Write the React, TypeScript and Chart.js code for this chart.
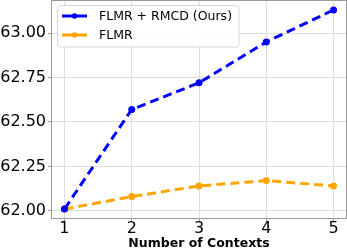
import React, { useEffect, useRef } from "react";
import { Chart, registerables } from "chart.js";

Chart.register(...registerables);

const contexts = [1, 2, 3, 4, 5];
const rmcdValues = [62.01, 62.57, 62.72, 62.95, 63.13];
const flmrValues = [62.01, 62.08, 62.14, 62.17, 62.14];
const yTicks = [62.0, 62.25, 62.5, 62.75, 63.0];
const seriesNames = ["FLMR + RMCD (Ours)", "FLMR"];
const xTitle = "Number of Contexts";

const FONT = "'DejaVu Sans', sans-serif";

const legendPlugin = {
  id: "insideLegend",
  afterDraw(chart: any) {
    const ctx = chart.ctx;
    const x0 = 57, y0 = 5, w = 182, h = 42;
    ctx.save();
    ctx.fillStyle = "rgba(255,255,255,0.85)";
    ctx.strokeStyle = "#d6d6d6";
    ctx.lineWidth = 1;
    ctx.beginPath();
    const r = 3;
    ctx.moveTo(x0 + r, y0 + 0.5);
    ctx.arcTo(x0 + w, y0 + 0.5, x0 + w, y0 + h, r);
    ctx.arcTo(x0 + w, y0 + h, x0, y0 + h, r);
    ctx.arcTo(x0 + 0.5, y0 + h, x0 + 0.5, y0, r);
    ctx.arcTo(x0 + 0.5, y0 + 0.5, x0 + w, y0 + 0.5, r);
    ctx.closePath();
    ctx.fill();
    ctx.stroke();
    chart.data.datasets.forEach((ds: any, i: number) => {
      const cy = y0 + 11 + i * 19;
      ctx.strokeStyle = ds.borderColor;
      ctx.lineWidth = 3;
      ctx.setLineDash([]);
      ctx.beginPath();
      ctx.moveTo(x0 + 5, cy);
      ctx.lineTo(x0 + 30, cy);
      ctx.stroke();
      ctx.fillStyle = ds.borderColor;
      ctx.beginPath();
      ctx.arc(x0 + 17.5, cy, 2.8, 0, Math.PI * 2);
      ctx.fill();
      ctx.fillStyle = "#000";
      ctx.font = `12.5px ${FONT}`;
      ctx.textBaseline = "middle";
      ctx.textAlign = "left";
      ctx.fillText(ds.label, x0 + 42, cy + 1);
    });
    ctx.restore();
  },
};

const framePlugin = {
  id: "frame",
  afterDatasetsDraw(chart: any) {
    const { left, right, top, bottom } = chart.chartArea;
    const ctx = chart.ctx;
    ctx.save();
    ctx.strokeStyle = "#9a9a9a";
    ctx.lineWidth = 1;
    ctx.strokeRect(left + 0.5, top + 0.5, right - left - 1, bottom - top - 1);
    ctx.restore();
  },
};

const zeroPad = (s: any) => {
  s.paddingTop = 0;
  s.paddingBottom = 0;
  s.paddingLeft = 0;
  s.paddingRight = 0;
};

export default function App() {
  const ref = useRef<HTMLCanvasElement>(null);
  useEffect(() => {
    document.body.style.margin = "0";
    const chart = new Chart(ref.current!, {
      type: "line",
      data: {
        datasets: [
          {
            label: seriesNames[0],
            data: contexts.map((c, i) => ({ x: c, y: rmcdValues[i] })),
            borderColor: "#0000ff",
            backgroundColor: "#0000ff",
            borderWidth: 3,
            borderDash: [9, 5],
            pointRadius: 3.5,
            pointBorderWidth: 0,
            tension: 0,
          },
          {
            label: seriesNames[1],
            data: contexts.map((c, i) => ({ x: c, y: flmrValues[i] })),
            borderColor: "#ffa500",
            backgroundColor: "#ffa500",
            borderWidth: 3,
            borderDash: [9, 5],
            pointRadius: 3.5,
            pointBorderWidth: 0,
            tension: 0,
          },
        ],
      },
      options: {
        animation: false,
        responsive: false,
        layout: { padding: 0, autoPadding: false },
        plugins: { legend: { display: false }, tooltip: { enabled: false } },
        scales: {
          x: {
            type: "linear",
            min: 0.8,
            max: 5.2,
            afterBuildTicks: (s: any) => {
              s.ticks = contexts.map((v) => ({ value: v }));
            },
            afterFit: (s: any) => {
              s.height = 32;
              zeroPad(s);
            },
            grid: { color: "#dedede", lineWidth: 1, drawTicks: true, tickLength: 3, tickColor: "#9a9a9a" },
            border: { display: false },
            ticks: {
              color: "#000",
              font: { family: FONT, size: 16 },
              padding: -3,
              maxRotation: 0,
              callback: (v: any) => String(v),
            },
            title: {
              display: true,
              text: xTitle,
              color: "#000",
              font: { family: FONT, size: 12.5, weight: "bold" },
              padding: { top: 0, bottom: 0 },
            },
          },
          y: {
            type: "linear",
            min: 61.954,
            max: 63.186,
            afterBuildTicks: (s: any) => {
              s.ticks = yTicks.map((v) => ({ value: v }));
            },
            afterFit: (s: any) => {
              s.width = 51;
              zeroPad(s);
            },
            grid: { color: "#dedede", lineWidth: 1, drawTicks: true, tickLength: 3, tickColor: "#9a9a9a" },
            border: { display: false },
            ticks: {
              color: "#000",
              font: { family: FONT, size: 16 },
              padding: 2,
              callback: (v: any) => Number(v).toFixed(2),
            },
          },
        },
      },
      plugins: [framePlugin, legendPlugin],
    } as any);
    return () => chart.destroy();
  }, []);
  return (
    <div style={{ position: "absolute", left: 0, top: 0, width: 347, height: 251 }}>
      <canvas ref={ref} width={347} height={251} style={{ width: 347, height: 251 }} />
    </div>
  );
}
